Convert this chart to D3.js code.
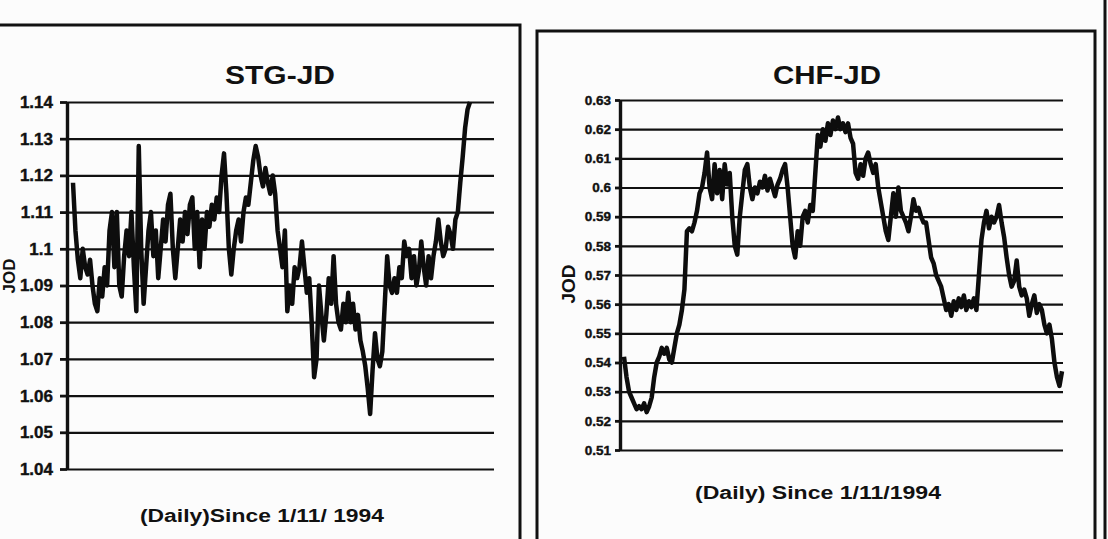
<!DOCTYPE html>
<html>
<head>
<meta charset="utf-8">
<script src="https://cdn.jsdelivr.net/npm/d3@7"></script>
<style>
  html, body { margin: 0; padding: 0; background: #fcfcfc; }
  svg { display: block; }
  text { font-family: "Liberation Sans", Arial, sans-serif; font-weight: bold; fill: #111; }
</style>
</head>
<body>
<svg id="chart" width="1108" height="539"></svg>
<script>
// ---------------- DATA ----------------
const stgTitle = "STG-JD";
const chfTitle = "CHF-JD";
const stgXLabel = "(Daily)Since 1/11/ 1994";
const chfXLabel = "(Daily) Since 1/11/1994";
const yLabel = "JOD";

const stgTicks = [1.14, 1.13, 1.12, 1.11, 1.10, 1.09, 1.08, 1.07, 1.06, 1.05, 1.04];
const stgTickLabels = ["1.14", "1.13", "1.12", "1.11", "1.1", "1.09", "1.08", "1.07", "1.06", "1.05", "1.04"];
const chfTicks = [0.63, 0.62, 0.61, 0.60, 0.59, 0.58, 0.57, 0.56, 0.55, 0.54, 0.53, 0.52, 0.51];
const chfTickLabels = ["0.63", "0.62", "0.61", "0.6", "0.59", "0.58", "0.57", "0.56", "0.55", "0.54", "0.53", "0.52", "0.51"];

// daily STG-JD rate
const stgValues = [1.118,1.105,1.097,1.092,1.100,1.095,1.093,1.097,1.090,1.085,1.083,1.092,1.087,1.095,1.090,1.105,1.110,1.095,1.110,1.090,1.087,1.098,1.105,1.098,1.110,1.095,1.083,1.128,1.100,1.085,1.095,1.105,1.110,1.098,1.105,1.092,1.100,1.108,1.102,1.112,1.115,1.100,1.092,1.100,1.108,1.102,1.110,1.104,1.112,1.114,1.100,1.110,1.095,1.108,1.100,1.110,1.106,1.112,1.108,1.114,1.110,1.120,1.126,1.115,1.100,1.093,1.100,1.105,1.108,1.102,1.110,1.114,1.112,1.118,1.124,1.128,1.125,1.120,1.117,1.122,1.118,1.115,1.120,1.115,1.105,1.100,1.095,1.105,1.083,1.090,1.085,1.095,1.092,1.095,1.102,1.095,1.088,1.092,1.080,1.065,1.070,1.090,1.082,1.075,1.082,1.092,1.085,1.098,1.085,1.080,1.078,1.085,1.080,1.088,1.080,1.085,1.078,1.082,1.075,1.072,1.068,1.062,1.055,1.067,1.077,1.070,1.068,1.072,1.085,1.098,1.090,1.088,1.092,1.088,1.095,1.092,1.102,1.098,1.100,1.092,1.098,1.090,1.094,1.102,1.095,1.090,1.098,1.092,1.098,1.102,1.108,1.102,1.098,1.100,1.106,1.104,1.100,1.108,1.110,1.118,1.125,1.133,1.138,1.140];

// daily CHF-JD rate
const chfValues = [0.542,0.535,0.530,0.528,0.526,0.524,0.525,0.524,0.526,0.523,0.525,0.528,0.535,0.540,0.542,0.545,0.543,0.545,0.541,0.540,0.545,0.550,0.553,0.558,0.565,0.585,0.586,0.585,0.588,0.592,0.598,0.600,0.605,0.612,0.600,0.596,0.608,0.598,0.606,0.596,0.608,0.601,0.605,0.590,0.580,0.577,0.590,0.598,0.606,0.608,0.600,0.596,0.600,0.598,0.602,0.600,0.604,0.599,0.603,0.600,0.597,0.601,0.603,0.606,0.608,0.600,0.590,0.580,0.576,0.585,0.580,0.590,0.592,0.588,0.594,0.592,0.605,0.618,0.614,0.620,0.616,0.622,0.618,0.623,0.620,0.624,0.620,0.622,0.619,0.622,0.617,0.615,0.605,0.603,0.608,0.604,0.610,0.612,0.608,0.605,0.608,0.600,0.595,0.590,0.585,0.582,0.590,0.598,0.590,0.600,0.592,0.590,0.588,0.585,0.590,0.596,0.592,0.593,0.590,0.588,0.588,0.582,0.576,0.574,0.570,0.568,0.566,0.562,0.558,0.560,0.556,0.561,0.558,0.562,0.559,0.563,0.558,0.561,0.559,0.562,0.558,0.570,0.582,0.588,0.592,0.586,0.590,0.588,0.590,0.594,0.588,0.583,0.576,0.570,0.566,0.568,0.575,0.566,0.563,0.565,0.562,0.556,0.560,0.563,0.557,0.560,0.558,0.553,0.550,0.553,0.548,0.540,0.535,0.532,0.537];

// ---------------- DRAW ----------------
const svg = d3.select("#chart");

// panel frames
const frame = svg.append("g").attr("fill", "none").attr("stroke", "#111").attr("stroke-width", 3);
frame.append("path").attr("d", "M-10,25 L520,25 L520,545");
frame.append("path").attr("d", "M537,545 L537,31 L1095,31 L1095,545");
frame.append("path").attr("d", "M1105,0 L1105,545");

function panel(opts) {
  const g = svg.append("g");
  const n = opts.values.length;
  const x = d3.scaleLinear().domain([0, n - 1]).range(opts.xRange);
  const y = d3.scaleLinear().domain(opts.yDomain).range(opts.yRange);

  // gridlines
  const grid = g.append("g")
    .attr("transform", `translate(${opts.axisX},0)`)
    .call(d3.axisLeft(y).tickValues(opts.ticks).tickSize(-(opts.gridEnd - opts.axisX)).tickFormat(""));
  grid.select(".domain").remove();
  grid.selectAll(".tick line").attr("stroke", "#111").attr("stroke-width", 2.2);

  // axis with ticks & labels
  const ax = g.append("g")
    .attr("transform", `translate(${opts.axisX},0)`)
    .call(d3.axisLeft(y).tickValues(opts.ticks).tickSizeInner(opts.tickLen).tickSizeOuter(0)
      .tickPadding(opts.tickPad).tickFormat((d, i) => opts.tickLabels[i]));
  ax.select(".domain").attr("stroke", "#111").attr("stroke-width", 3.4);
  ax.selectAll(".tick line").attr("stroke", "#111").attr("stroke-width", 2.8);
  ax.selectAll(".tick text")
    .style("font-family", '"Liberation Sans", Arial, sans-serif')
    .style("font-weight", "bold")
    .style("font-size", opts.tickFont + "px")
    .attr("fill", "#111")
    .attr("stroke", "#111").attr("stroke-width", 0.4);

  // the series line
  const line = d3.line().x((d, i) => x(i)).y(d => y(d));
  g.append("path").datum(opts.values)
    .attr("d", line)
    .attr("fill", "none")
    .attr("stroke", "#0d0d0d")
    .attr("stroke-width", 4.5)
    .attr("stroke-linejoin", "round");

  // title
  g.append("text").attr("x", opts.titleX).attr("y", opts.titleY)
    .attr("text-anchor", "middle").style("font-size", "26px")
    .attr("textLength", opts.titleLen).attr("lengthAdjust", "spacingAndGlyphs")
    .text(opts.title);
  // x label
  g.append("text").attr("x", opts.xLabelX).attr("y", opts.xLabelY)
    .attr("text-anchor", "middle").style("font-size", "18px")
    .attr("textLength", opts.xLabelLen).attr("lengthAdjust", "spacingAndGlyphs")
    .text(opts.xLabel);
  // y label
  g.append("text")
    .attr("transform", `translate(${opts.yLabelX},${opts.yLabelY}) rotate(-90)`)
    .attr("text-anchor", "middle").style("font-size", opts.yLabelFont + "px").text(yLabel);
}

panel({
  values: stgValues, xRange: [73, 470], yDomain: [1.04, 1.14], yRange: [469, 102],
  ticks: stgTicks, tickLabels: stgTickLabels, axisX: 67, gridEnd: 494,
  tickLen: 7, tickPad: 7, tickFont: 17,
  title: stgTitle, titleX: 280, titleY: 84, titleLen: 110,
  xLabel: stgXLabel, xLabelX: 262, xLabelY: 522, xLabelLen: 244,
  yLabelX: 15, yLabelY: 276, yLabelFont: 17
});

panel({
  values: chfValues, xRange: [624, 1062], yDomain: [0.51, 0.63], yRange: [450, 100],
  ticks: chfTicks, tickLabels: chfTickLabels, axisX: 620, gridEnd: 1063,
  tickLen: 5, tickPad: 4, tickFont: 13.5,
  title: chfTitle, titleX: 827, titleY: 84, titleLen: 108,
  xLabel: chfXLabel, xLabelX: 818, xLabelY: 499, xLabelLen: 246,
  yLabelX: 575, yLabelY: 284, yLabelFont: 19
});
</script>
</body>
</html>
